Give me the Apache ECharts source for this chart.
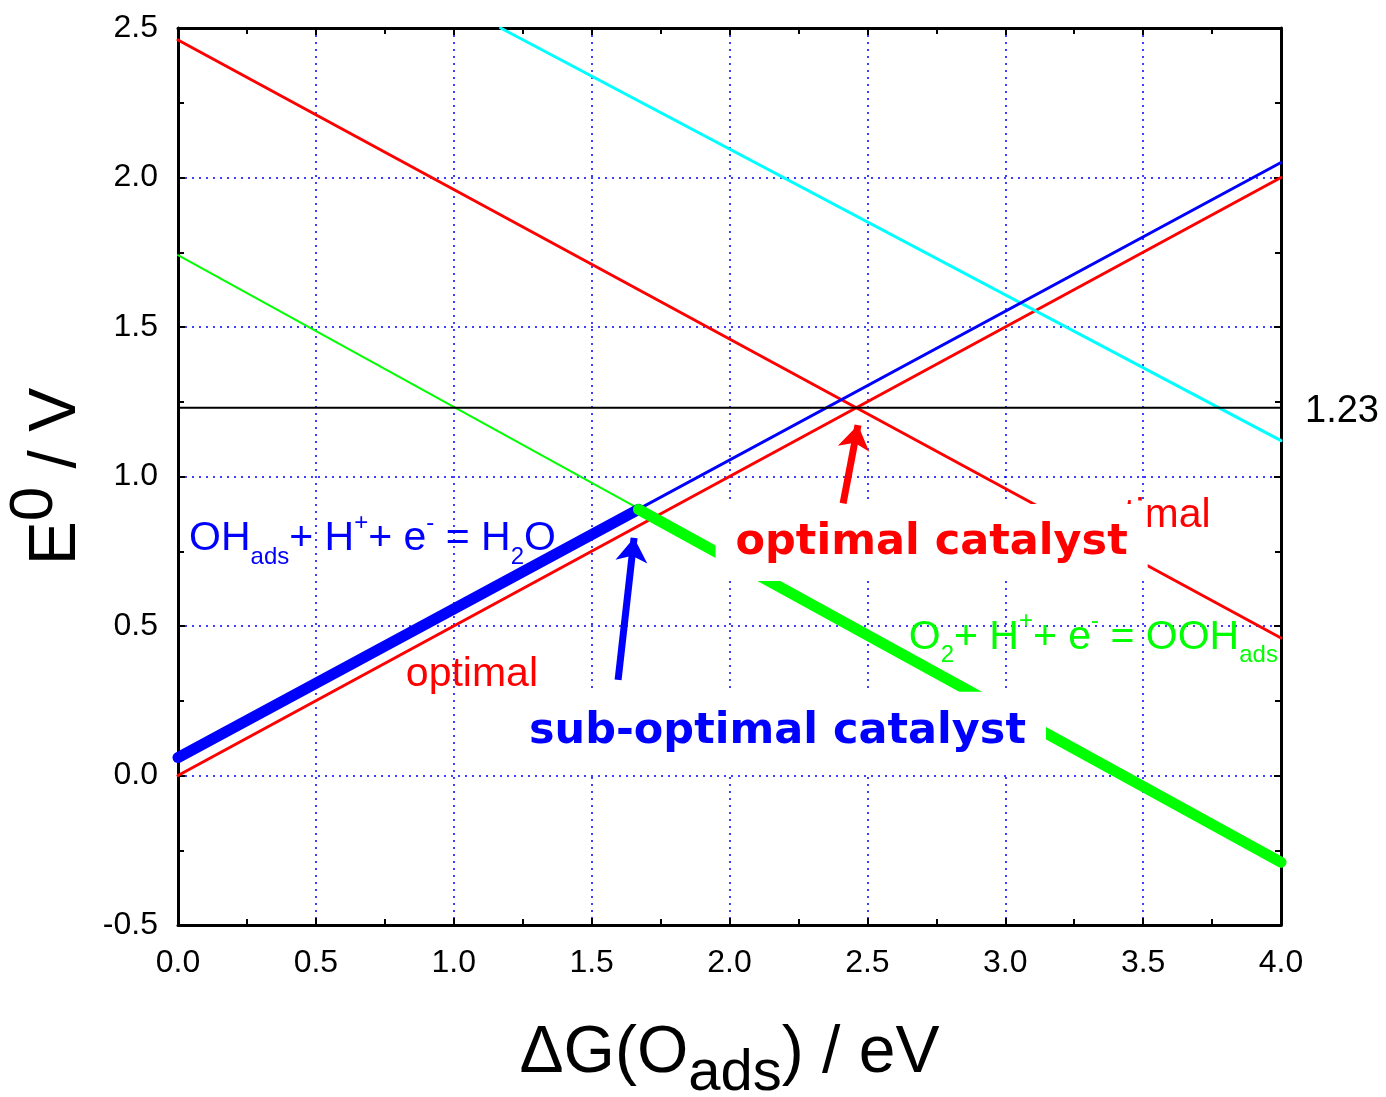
<!DOCTYPE html>
<html>
<head>
<meta charset="utf-8">
<script src="https://cdn.jsdelivr.net/npm/echarts@6/dist/echarts.min.js"></script>
<style>
html, body { margin: 0; padding: 0; background: #fff; }
#chart { width: 1386px; height: 1097px; }
</style>
</head>
<body>
<div id="chart"></div>
<script>
// straight lines, read at both ends of the x range (ΔG(O_ads) / eV)
const xEnds = [0.0, 4.0]
const redRising = [0.0, 2.0]
const redFalling = [2.46, 0.46]
const blueOH = [0.06, 2.05]
const greenOOH = [1.74, -0.29]
const cyanX = [1.17, 4.0]
const cyanY = [2.5, 1.12]
// thick (limiting) parts
const blueThickX = [0.0, 1.67]
const blueThickY = [0.06, 0.89]
const greenThickX = [1.67, 4.0]
const greenThickY = [0.89, -0.29]
// equilibrium potential
const refX = [0.0, 4.0]
const refY = [1.23, 1.23]
// arrows (tail, tip)
const blueArrowX = [1.596, 1.654]
const blueArrowY = [0.32, 0.795]
const redArrowX = [2.412, 2.466]
const redArrowY = [0.91, 1.172]

const pairs = (xs, ys) => xs.map((x, i) => [x, ys[i]])
const FONT = 'Liberation Sans'

function line(xs, ys, color, width, z) {
    return {
        type: 'line',
        data: pairs(xs, ys),
        symbol: 'none',
        silent: true,
        z: z,
        lineStyle: { color: color, width: width, cap: 'round' }
    }
}

function eqRich(color) {
    return {
        m: { fontSize: 41, color: color, fontFamily: FONT, verticalAlign: 'bottom', lineHeight: 46, padding: [0, 0, 10, 0] },
        b: { fontSize: 24, color: color, fontFamily: FONT, verticalAlign: 'bottom', lineHeight: 26, padding: [0, 0, 0, 0] },
        p: { fontSize: 24, color: color, fontFamily: FONT, verticalAlign: 'bottom', lineHeight: 26, padding: [0, 0, 34, 0] }
    }
}

var chart = echarts.init(document.getElementById('chart'))

var gridLine = { show: true, lineStyle: { color: '#0000ff', width: 1.5, type: [2, 5] } }
var frame = { show: true, onZero: false, lineStyle: { color: '#000', width: 3 } }
var ticks = { show: true, inside: true, length: 7, lineStyle: { color: '#000', width: 2 } }
var minor = { show: true, splitNumber: 2, length: 6, lineStyle: { color: '#000', width: 2 } }

var option = {
    animation: false,
    backgroundColor: '#fff',
    grid: { left: 178, right: 105, top: 28, bottom: 172, containLabel: false, outerBoundsMode: 'none' },
    xAxis: [
        {
            type: 'value', min: 0, max: 4, interval: 0.5,
            axisLine: frame, axisTick: ticks, minorTick: minor, splitLine: gridLine,
            axisLabel: { color: '#000', fontSize: 32, fontFamily: FONT, margin: 22, formatter: v => v.toFixed(1) },
            name: '{m|ΔG(O}{s|ads}{m|) / eV}',
            nameLocation: 'middle',
            nameGap: 106,
            nameTextStyle: {
                rich: {
                    m: { fontSize: 66, fontFamily: FONT, color: '#000', verticalAlign: 'bottom', lineHeight: 72, padding: [0, 0, 16, 0] },
                    s: { fontSize: 58, fontFamily: FONT, color: '#000', verticalAlign: 'bottom', lineHeight: 62, padding: [0, 0, 0, 0] }
                }
            }
        },
        {
            type: 'value', min: 0, max: 4, interval: 0.5, position: 'top',
            axisLine: frame, axisTick: ticks, minorTick: minor,
            axisLabel: { show: false }, splitLine: { show: false }
        }
    ],
    yAxis: [
        {
            type: 'value', min: -0.5, max: 2.5, interval: 0.5,
            axisLine: frame, axisTick: ticks, minorTick: minor, splitLine: gridLine,
            axisLabel: { color: '#000', fontSize: 32, fontFamily: FONT, margin: 20, formatter: v => v.toFixed(1) },
            name: '{m|E}{s|0}{m| / V}',
            nameLocation: 'middle',
            nameGap: 88,
            nameTextStyle: {
                rich: {
                    m: { fontSize: 66, fontFamily: FONT, color: '#000', verticalAlign: 'bottom', lineHeight: 72, padding: [0, 0, 0, 0] },
                    s: { fontSize: 62, fontFamily: FONT, color: '#000', verticalAlign: 'bottom', lineHeight: 66, padding: [0, 0, 24, 0] }
                }
            }
        },
        {
            type: 'value', min: -0.5, max: 2.5, interval: 0.5, position: 'right',
            axisLine: frame, axisTick: ticks, minorTick: minor,
            axisLabel: { show: false }, splitLine: { show: false }
        }
    ],
    series: [
        line(xEnds, redRising, '#ff0000', 3, 2),
        line(xEnds, redFalling, '#ff0000', 3, 2),
        line(cyanX, cyanY, '#00ffff', 3, 2),
        line(xEnds, greenOOH, '#00ff00', 2, 2),
        line(xEnds, blueOH, '#0000ff', 3, 2),
        line(blueThickX, blueThickY, '#0000ff', 11, 2),
        line(greenThickX, greenThickY, '#00ff00', 11, 2),
        Object.assign(line(refX, refY, '#000', 2, 2), {
            endLabel: { show: true, formatter: '1.23', color: '#000', fontSize: 38, fontFamily: FONT, distance: 24, offset: [0, 4] }
        }),
        // equation and "optimal" labels
        {
            type: 'scatter', symbolSize: 0, silent: true, z: 3,
            itemStyle: { opacity: 1 },
            data: [
                { value: [0.04, 0.767], label: { show: true, position: 'right', distance: 0, formatter: '{m|OH}{b|ads}{m|+ H}{p|+}{m|+ e}{p|-}{m| = H}{b|2}{m|O}', rich: eqRich('#0000ff') } },
                { value: [2.65, 0.437], label: { show: true, position: 'right', distance: 0, formatter: '{m|O}{b|2}{m|+ H}{p|+}{m|+ e}{p|-}{m| = OOH}{b|ads}', rich: eqRich('#00ff00') } },
                { value: [1.066, 0.337], label: { show: true, position: 'inside', formatter: 'optimal', color: '#ff0000', fontSize: 41, fontFamily: FONT } },
                { value: [3.505, 0.87], label: { show: true, position: 'inside', formatter: 'optimal', color: '#ff0000', fontSize: 41, fontFamily: FONT } }
            ]
        },
        // boxed catalyst labels
        {
            type: 'scatter', symbolSize: 0, silent: true, z: 5,
            itemStyle: { opacity: 1 },
            data: [
                { value: [2.733, 0.779], label: { show: true, position: 'inside', formatter: 'optimal catalyst', color: '#ff0000', padding: [16, 20, 11, 20] } },
                { value: [2.174, 0.145], label: { show: true, position: 'inside', formatter: 'sub-optimal catalyst', color: '#0000ff', padding: [18, 20, 13, 20] } }
            ],
            label: { fontSize: 43, lineHeight: 50, fontWeight: 'bold', fontFamily: 'DejaVu Sans', backgroundColor: '#ffffff', opacity: 1 }
        },
        {
            type: 'lines', coordinateSystem: 'cartesian2d', silent: true, z: 6,
            symbol: ['none', 'arrow'], symbolSize: 24,
            lineStyle: { width: 7, opacity: 1, curveness: 0 },
            data: [
                { coords: pairs(blueArrowX, blueArrowY), lineStyle: { color: '#0000ff' } },
                { coords: pairs(redArrowX, redArrowY), lineStyle: { color: '#ff0000' } }
            ]
        }
    ]
}

chart.setOption(option)
</script>
</body>
</html>
